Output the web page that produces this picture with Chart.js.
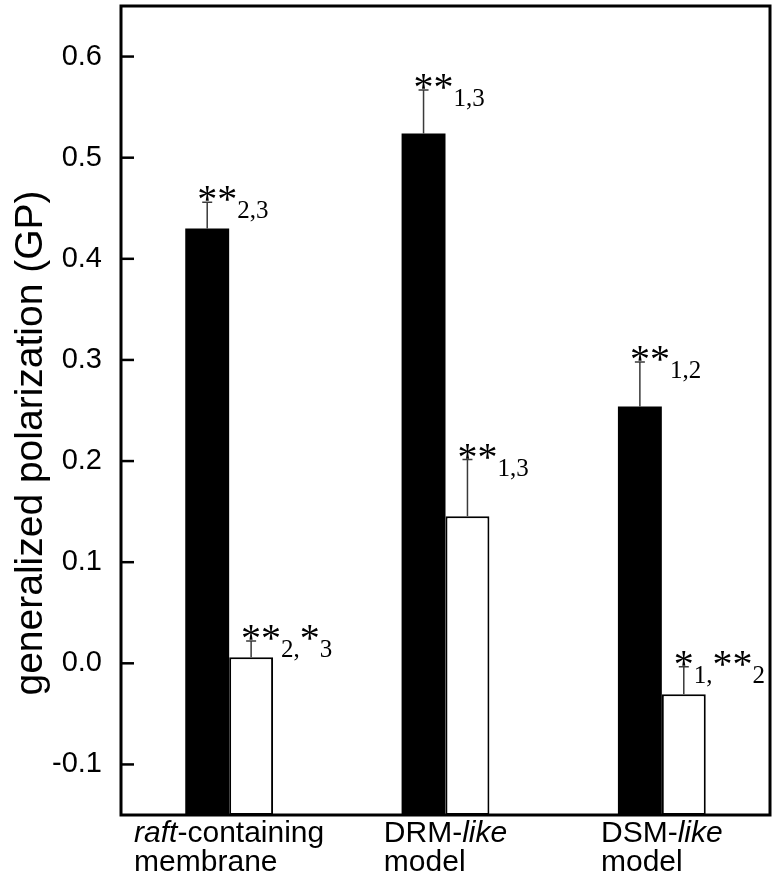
<!DOCTYPE html>
<html>
<head>
<meta charset="utf-8">
<script src="https://cdn.jsdelivr.net/npm/chart.js@4/dist/chart.umd.min.js"></script>
<style>
  html, body { margin: 0; padding: 0; background: #fff; }
  canvas { display: block; }
</style>
</head>
<body>
<canvas id="chart" width="775" height="884"></canvas>
<script>
// valores
const categorias = ['raft-containing membrane', 'DRM-like model', 'DSM-like model'];
const etiquetasX = [
  [[['raft', 'italic'], ['-containing', 'normal']], [['membrane', 'normal']]],
  [[['DRM-', 'normal'], ['like', 'italic']], [['model', 'normal']]],
  [[['DSM-', 'normal'], ['like', 'italic']], [['model', 'normal']]]
];
const valoresNegros = [0.430, 0.524, 0.254];
const erroresNegros = [0.026, 0.043, 0.044];
const valoresBlancos = [0.006, 0.1455, -0.0305];
const erroresBlancos = [0.016, 0.056, 0.027];
// 'a' = asterisco, 's' = subindice
const marcasNegras = [
  [['**', 'a'], ['2,3', 's']],
  [['**', 'a'], ['1,3', 's']],
  [['**', 'a'], ['1,2', 's']]
];
const marcasBlancas = [
  [['**', 'a'], ['2,', 's'], ['*', 'a'], ['3', 's']],
  [['**', 'a'], ['1,3', 's']],
  [['*', 'a'], ['1,', 's'], ['**', 'a'], ['2', 's']]
];
const ticksY = [-0.1, 0.0, 0.1, 0.2, 0.3, 0.4, 0.5, 0.6];
const minY = -0.15;
const maxY = 0.65;
const tituloY = 'generalized polarization (GP)';

const fuenteSans = '"Liberation Sans", Arial, sans-serif';
const fuenteSerif = '"Liberation Serif", "Times New Roman", serif';
const fuenteAst = '40px ' + fuenteSerif;
const fuenteSub = '25px ' + fuenteSerif;

function dibujarMarca(ctx, x0, yCap, partes) {
  ctx.font = fuenteAst;
  let cx = x0 - ctx.measureText('*').width / 2;
  partes.forEach(([texto, tipo]) => {
    ctx.font = tipo === 'a' ? fuenteAst : fuenteSub;
    const by = tipo === 'a' ? yCap + 10 : yCap + 16;
    ctx.fillText(texto, cx, by);
    cx += ctx.measureText(texto).width;
  });
}

const extras = {
  id: 'extras',
  afterDatasetsDraw(chart) {
    const ctx = chart.ctx;
    const y = chart.scales.y;
    const grupos = [
      [0, valoresNegros, erroresNegros, marcasNegras],
      [1, valoresBlancos, erroresBlancos, marcasBlancas]
    ];
    ctx.save();
    grupos.forEach(([ds, valores, errores, marcas]) => {
      const meta = chart.getDatasetMeta(ds);
      valores.forEach((v, i) => {
        const bx = meta.data[i].x;
        const yTop = y.getPixelForValue(v);
        const yCap = y.getPixelForValue(v + errores[i]);
        ctx.strokeStyle = '#3a3a3a';
        ctx.lineWidth = 1.5;
        ctx.beginPath();
        ctx.moveTo(bx, yTop);
        ctx.lineTo(bx, yCap);
        ctx.moveTo(bx - 5, yCap);
        ctx.lineTo(bx + 5, yCap);
        ctx.stroke();
        ctx.fillStyle = '#000';
        ctx.textBaseline = 'alphabetic';
        ctx.textAlign = 'left';
        dibujarMarca(ctx, bx, yCap, marcas[i]);
      });
    });
    ctx.restore();
  },
  afterDraw(chart) {
    const ctx = chart.ctx;
    const a = chart.chartArea;
    const y = chart.scales.y;
    const x = chart.scales.x;
    ctx.save();
    // marco
    ctx.strokeStyle = '#000';
    ctx.lineWidth = 3;
    ctx.strokeRect(a.left, a.top, a.right - a.left, a.bottom - a.top);
    // ticks hacia adentro
    ctx.lineWidth = 2.5;
    ticksY.forEach(v => {
      const py = y.getPixelForValue(v);
      ctx.beginPath();
      ctx.moveTo(a.left, py);
      ctx.lineTo(a.left + 13, py);
      ctx.stroke();
    });
    // titulo del eje y
    ctx.fillStyle = '#000';
    ctx.save();
    ctx.translate(31, 443);
    ctx.rotate(-Math.PI / 2);
    ctx.font = '39px ' + fuenteSans;
    ctx.textAlign = 'center';
    ctx.textBaseline = 'middle';
    ctx.fillText(tituloY, 0, 0);
    ctx.restore();
    // etiquetas del eje x (con cursiva)
    ctx.textBaseline = 'alphabetic';
    ctx.textAlign = 'left';
    etiquetasX.forEach((lineas, i) => {
      const cx = x.getPixelForValue(i);
      const anchos = lineas.map(linea => linea.reduce((s, [t, estilo]) => {
        ctx.font = estilo + ' 30px ' + fuenteSans;
        return s + ctx.measureText(t).width;
      }, 0));
      const izq = cx - Math.max(...anchos) / 2;
      lineas.forEach((linea, j) => {
        let px = izq;
        const py = a.bottom + 27 + j * 29;
        linea.forEach(([t, estilo]) => {
          ctx.font = estilo + ' 30px ' + fuenteSans;
          ctx.fillText(t, px, py);
          px += ctx.measureText(t).width;
        });
      });
    });
    ctx.restore();
  }
};

const ctx = document.getElementById('chart').getContext('2d');
const myChart = new Chart(ctx, {
  type: 'bar',
  data: {
    labels: categorias,
    datasets: [
      {
        data: valoresNegros,
        base: minY,
        backgroundColor: '#000',
        borderColor: '#000',
        borderWidth: 0,
        barPercentage: 1,
        categoryPercentage: 0.406
      },
      {
        data: valoresBlancos,
        base: minY,
        backgroundColor: '#fff',
        borderColor: '#000',
        borderWidth: 2,
        borderSkipped: false,
        barPercentage: 1,
        categoryPercentage: 0.406
      }
    ]
  },
  options: {
    responsive: false,
    animation: false,
    layout: { padding: { top: 6, right: 5, left: 0, bottom: 0 } },
    plugins: { legend: { display: false }, tooltip: { enabled: false } },
    scales: {
      x: {
        type: 'category',
        grid: { display: false },
        border: { display: false },
        ticks: { display: false },
        afterFit: s => { s.height = 69; s.paddingLeft = 0; s.paddingRight = 0; }
      },
      y: {
        min: minY,
        max: maxY,
        afterBuildTicks: s => { s.ticks = ticksY.map(v => ({ value: v })); },
        grid: { display: false },
        border: { display: false },
        ticks: {
          callback: v => Number(v).toFixed(1),
          color: '#000',
          padding: 11,
          font: { family: fuenteSans, size: 29 }
        },
        afterFit: s => { s.width = 121; s.paddingTop = 0; s.paddingBottom = 0; }
      }
    }
  },
  plugins: [extras]
});
</script>
</body>
</html>
